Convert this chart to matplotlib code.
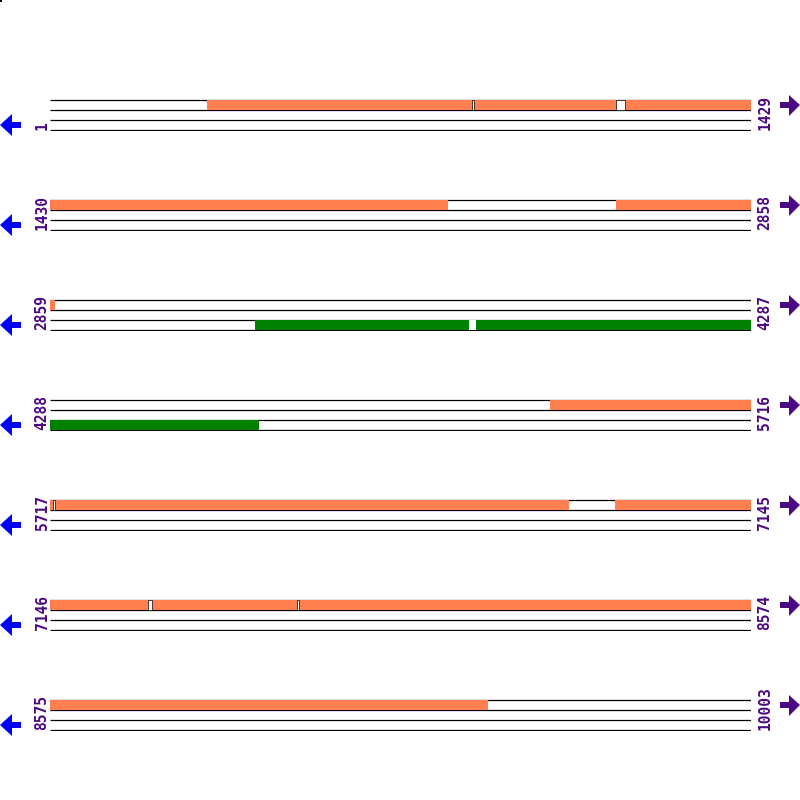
import matplotlib
matplotlib.use("Agg")
import matplotlib.pyplot as plt
from matplotlib.patches import Polygon, Rectangle

# sequence layout: 7 rows of 1429 positions
row_len = 1429
row_starts = [1, 1430, 2859, 4288, 5717, 7146, 8575]
row_ends = [1429, 2858, 4287, 5716, 7145, 8574, 10003]

# forward strand features (orange) with small breaks
fwd_segments = [(321, 2241), (2584, 2869), (5307, 6775), (6869, 9468)]
fwd_gaps = [(862, 866), (1154, 1173), (5723, 5727), (7346, 7354), (7649, 7653)]

# reverse strand features (green)
rev_segments = [(3277, 4714)]
rev_gaps = [(3713, 3727)]

FWD_COLOR = "#ff7f50"
REV_COLOR = "#008000"
LABEL_COLOR = "#4b0a82"
LEFT_ARROW = "#0000ff"

W, H = 800, 800
fig = plt.figure(figsize=(W / 100, H / 100), dpi=100)

# overlay in pixel coordinates for labels and arrows
ov = fig.add_axes([0, 0, 1, 1])
ov.set_xlim(0, W)
ov.set_ylim(H, 0)
ov.axis("off")
ov.add_patch(Rectangle((0, 0), 2, 2, color="black", lw=0))

x0, x1 = 50, 751
for i, (rs, re) in enumerate(zip(row_starts, row_ends)):
    top = 100 + 100 * i
    # axes spans pixel rows top-1 .. top+31
    ax = fig.add_axes([x0 / W, 1 - (top + 31) / H, (x1 - x0) / W, 32 / H])
    ax.set_xlim(rs, rs + row_len)
    ax.set_ylim(31, -1)
    ax.axis("off")

    end = min(re + 1, rs + row_len)
    for y in (0, 10, 20, 30):
        ax.plot([rs, end], [y, y], color="black", lw=0.9, zorder=1, solid_capstyle="butt")

    ax.broken_barh([(s, e - s) for s, e in fwd_segments], (0, 10),
                   facecolors=FWD_COLOR, edgecolor="none", zorder=2)
    ax.broken_barh([(s, e - s) for s, e in fwd_gaps], (0, 10),
                   facecolors="white", edgecolor="black", lw=0.5, zorder=3)
    ax.broken_barh([(s, e - s) for s, e in rev_segments], (20, 10),
                   facecolors=REV_COLOR, edgecolor="none", zorder=2)
    ax.broken_barh([(s, e - s) for s, e in rev_gaps], (20, 10),
                   facecolors="white", edgecolor="none", zorder=3)

    # position labels
    ov.text(42, top + 30, str(rs), rotation=90, ha="center", va="bottom",
            family="DejaVu Sans Mono", fontsize=10.5, fontweight="bold", color=LABEL_COLOR)
    ov.text(765, top + 30, str(re), rotation=90, ha="center", va="bottom",
            family="DejaVu Sans Mono", fontsize=10.5, fontweight="bold", color=LABEL_COLOR)

    # strand arrows
    cy = top + 25
    ov.add_patch(Polygon([(0, cy), (12, cy - 11), (12, cy - 3), (21, cy - 3),
                          (21, cy + 3), (12, cy + 3), (12, cy + 11)],
                         closed=True, color=LEFT_ARROW, lw=0))
    cy = top + 5
    ov.add_patch(Polygon([(780, cy - 3), (789, cy - 3), (789, cy - 10), (800, cy),
                          (789, cy + 11), (789, cy + 3), (780, cy + 3)],
                         closed=True, color=LABEL_COLOR, lw=0))

fig.savefig("out.png", dpi=100, facecolor="white")
